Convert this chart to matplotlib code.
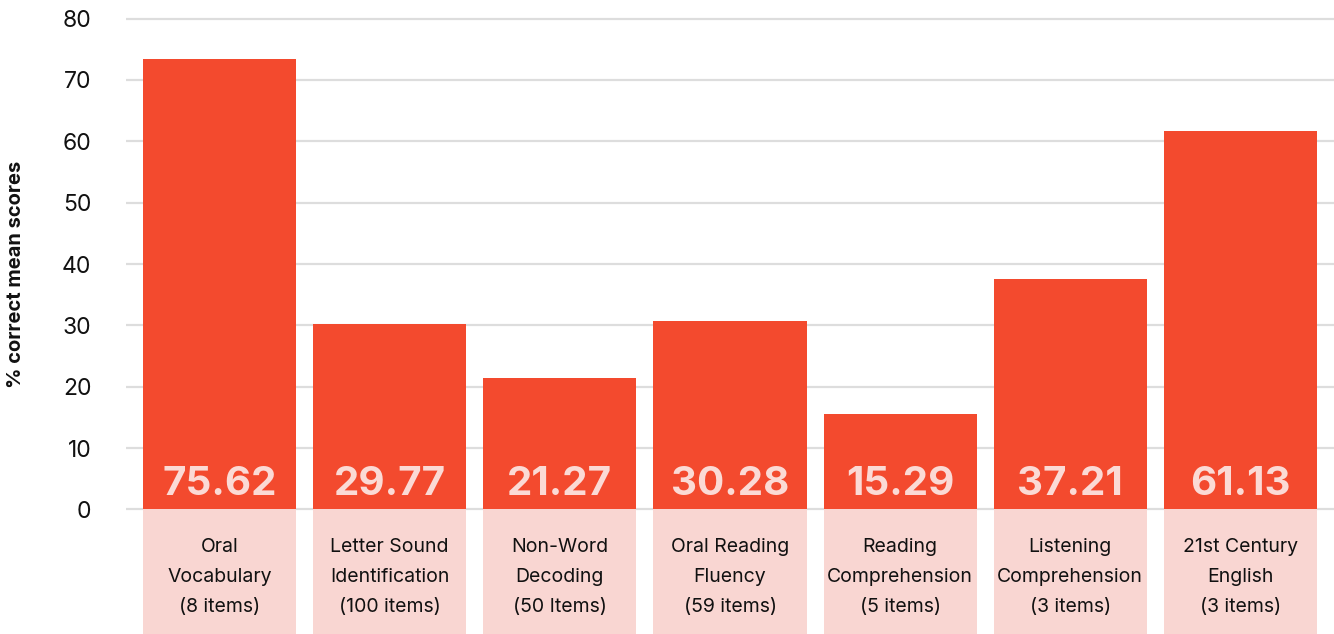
import matplotlib
matplotlib.use("Agg")
import matplotlib.pyplot as plt
import numpy as np

# values
categories = [
    "Oral\nVocabulary\n(8 items)",
    "Letter Sound\nIdentification\n(100 items)",
    "Non-Word\nDecoding\n(50 Items)",
    "Oral Reading\nFluency\n(59 items)",
    "Reading\nComprehension\n(5 items)",
    "Listening\nComprehension\n(3 items)",
    "21st Century\nEnglish\n(3 items)",
]
bar_heights = [73.4, 30.2, 21.5, 30.7, 15.5, 37.6, 61.7]
value_labels = ["75.62", "29.77", "21.27", "30.28", "15.29", "37.21", "61.13"]
y_ticks = [0, 10, 20, 30, 40, 50, 60, 70, 80]

BAR_RED = "#F34A2E"
BOX_PINK = "#F9D6D2"
LABEL_PINK = "#FBDAD5"
GRID_GREY = "#DDDDDD"

plt.rcParams["font.family"] = ["Inter", "DejaVu Sans"]

fig = plt.figure(figsize=(13.34, 6.34), dpi=100)
ax = fig.add_axes([126 / 1334, 0, 1208 / 1334, 624 / 634])

x = np.arange(len(categories))
ymin, ymax = -20.3, 81.4

ax.bar(x, bar_heights, width=0.9, color=BAR_RED, zorder=2)
# pink label boxes under the axis line
ax.bar(x, [ymin] * len(x), width=0.9, color=BOX_PINK, zorder=2)

for xi, lab in zip(x, value_labels):
    ax.text(xi, 2.4, lab, ha="center", va="baseline", fontsize=29,
            fontweight="bold", color=LABEL_PINK, zorder=3)

for xi, cat in zip(x, categories):
    ax.text(xi, -11.0, cat, ha="center", va="center", fontsize=14,
            color="#111111", linespacing=1.85, zorder=3)

ax.set_xlim(-0.55, 6.55)
ax.set_ylim(ymin, ymax)
ax.set_yticks(y_ticks)
ax.set_xticks([])
ax.tick_params(axis="y", length=0, pad=25, labelsize=16.5, labelcolor="#111111")
ax.yaxis.grid(True, color=GRID_GREY, linewidth=1.6, zorder=0)
ax.set_axisbelow(True)
for s in ax.spines.values():
    s.set_visible(False)

fig.text(16 / 1334, 1 - 274 / 634, "% correct mean scores", rotation=90,
         ha="center", va="center", fontsize=14.5, fontweight="bold", color="#111111")

fig.savefig("out.png", dpi=100)
